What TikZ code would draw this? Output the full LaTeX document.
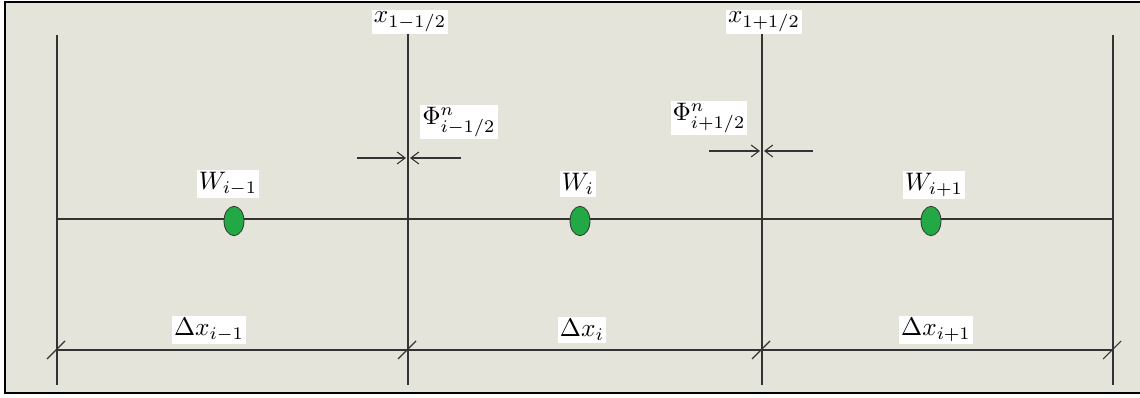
\documentclass[tikz,border=0pt]{standalone}
\usepackage{amsmath}
\usepackage{graphicx}
\usetikzlibrary{arrows.meta,shapes.geometric}
\definecolor{bg}{HTML}{E4E4DA}
\definecolor{dotgreen}{HTML}{22A946}
\definecolor{ln}{HTML}{333333}
\newcommand{\mylbl}[1]{\scalebox{1.9}{$#1$}}
\tikzset{
  grid/.style={draw=ln, line width=1pt},
  lab/.style={fill=white, inner sep=1.5pt},
  dot/.style={ellipse, draw=black!80, fill=dotgreen, minimum width=15pt, minimum height=22pt, inner sep=0pt, line width=0.6pt},
  tick/.style={draw=ln, line width=0.8pt},
  flux/.style={draw=ln, line width=0.8pt, -{Straight Barb[length=6pt,width=9pt]}},
}
\begin{document}
\begin{tikzpicture}[x=0.75pt, y=-0.75pt]
\useasboundingbox (0,0) rectangle (1140,398);
\fill[white] (0,0) rectangle (1140,398);
\fill[bg] (5,2) rectangle (1140,393);
\draw[line width=2pt] (1140,2) -- (5,2) -- (5,393) -- (1140,393);
% coordinates
\foreach \n/\x in {a/57, b/408, c/762, d/1113} {
  \coordinate (\n mid) at (\x,219);
  \coordinate (\n dim) at (\x,350);
  \coordinate (\n bot) at (\x,385);
}
\coordinate (atop) at (57,35);
\coordinate (dtop) at (1113,35);
% labels at top
\node[lab] (xl) at (410,22) {\mylbl{x_{1-1/2}}};
\node[lab] (xr) at (764,22) {\mylbl{x_{1+1/2}}};
% vertical lines
\draw[grid] (bmid |- xl.south) -- (bbot);
\draw[grid] (cmid |- xr.south) -- (cbot);
\draw[grid] (atop) -- (abot);
\draw[grid] (dtop) -- (dbot);
% horizontal lines
\draw[grid] (amid) -- (dmid);
\draw[grid] (adim) -- (ddim);
% ticks
\foreach \n in {a,b,c,d} {
  \draw[tick] ([shift={(-10,9)}]\n dim) -- ([shift={(8,-9)}]\n dim);
}
% flux labels and arrows
\node[lab] (fl) at (459,122) {\mylbl{\Phi^{n}_{i-1/2}}};
\node[lab] (fr) at (709,118) {\mylbl{\Phi^{n}_{i+1/2}}};
\coordinate (fl1) at (357,158); \coordinate (fl1e) at (406,158);
\coordinate (fl2) at (461,158); \coordinate (fl2e) at (410,158);
\coordinate (fr1) at (709,151); \coordinate (fr1e) at (760,151);
\coordinate (fr2) at (813,151); \coordinate (fr2e) at (764,151);
\draw[flux] (fl1) -- (fl1e);
\draw[flux] (fl2) -- (fl2e);
\draw[flux] (fr1) -- (fr1e);
\draw[flux] (fr2) -- (fr2e);
% dots
\node[dot] (w1) at (234,221) {};
\node[dot] (w2) at (580,221) {};
\node[dot] (w3) at (931,221) {};
\node[lab] (lw1) at (228,184) {\mylbl{W_{i-1}}};
\node[lab] (lw2) at (578,184) {\mylbl{W_{i}}};
\node[lab] (lw3) at (934,185) {\mylbl{W_{i+1}}};
% delta labels
\node[lab] (d1) at (209,330) {\mylbl{\Delta x_{i-1}}};
\node[lab] (d2) at (582,330) {\mylbl{\Delta x_{i}}};
\node[lab] (d3) at (936,330) {\mylbl{\Delta x_{i+1}}};
\end{tikzpicture}
\end{document}
